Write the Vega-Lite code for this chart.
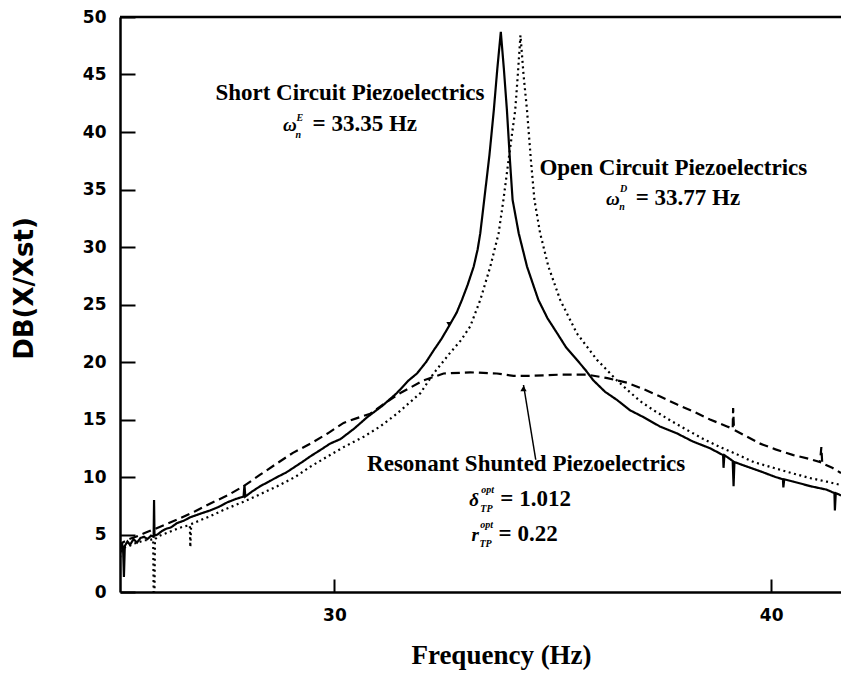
{
  "$schema": "https://vega.github.io/schema/vega-lite/v6.json",
  "width": 721,
  "height": 575,
  "autosize": {"type": "none"},
  "padding": {"left": 120, "top": 17, "right": 0, "bottom": 82},
  "background": "white",
  "config": {"view": {"stroke": null}},
  "datasets": {
    "curves": [
      {"s": "Short", "x": 25.09, "y": 3.3}, {"s": "Short", "x": 25.13, "y": 4.3}, {"s": "Short", "x": 25.16, "y": 3.8}, {"s": "Short", "x": 25.18, "y": 1.3}, {"s": "Short", "x": 25.2, "y": 4.0},
      {"s": "Short", "x": 25.26, "y": 4.4}, {"s": "Short", "x": 25.32, "y": 4.1}, {"s": "Short", "x": 25.4, "y": 4.6}, {"s": "Short", "x": 25.48, "y": 4.3}, {"s": "Short", "x": 25.56, "y": 4.7},
      {"s": "Short", "x": 25.64, "y": 4.8}, {"s": "Short", "x": 25.72, "y": 4.6}, {"s": "Short", "x": 25.8, "y": 4.9}, {"s": "Short", "x": 25.86, "y": 4.8}, {"s": "Short", "x": 25.87, "y": 8.0},
      {"s": "Short", "x": 25.88, "y": 4.9}, {"s": "Short", "x": 25.95, "y": 5.0}, {"s": "Short", "x": 26.05, "y": 5.3}, {"s": "Short", "x": 26.15, "y": 5.5}, {"s": "Short", "x": 26.25, "y": 5.6},
      {"s": "Short", "x": 26.4, "y": 6.0}, {"s": "Short", "x": 26.55, "y": 6.2}, {"s": "Short", "x": 26.7, "y": 6.5}, {"s": "Short", "x": 26.85, "y": 6.7}, {"s": "Short", "x": 27.0, "y": 6.9},
      {"s": "Short", "x": 27.16, "y": 7.1}, {"s": "Short", "x": 27.35, "y": 7.4}, {"s": "Short", "x": 27.55, "y": 7.8}, {"s": "Short", "x": 27.75, "y": 8.1}, {"s": "Short", "x": 27.92, "y": 8.3},
      {"s": "Short", "x": 27.94, "y": 9.3}, {"s": "Short", "x": 27.96, "y": 8.3}, {"s": "Short", "x": 28.1, "y": 8.7}, {"s": "Short", "x": 28.3, "y": 9.2}, {"s": "Short", "x": 28.5, "y": 9.6},
      {"s": "Short", "x": 28.69, "y": 10.0}, {"s": "Short", "x": 28.9, "y": 10.4}, {"s": "Short", "x": 29.1, "y": 10.9}, {"s": "Short", "x": 29.3, "y": 11.4}, {"s": "Short", "x": 29.45, "y": 11.8},
      {"s": "Short", "x": 29.7, "y": 12.4}, {"s": "Short", "x": 29.9, "y": 12.9}, {"s": "Short", "x": 30.14, "y": 13.3}, {"s": "Short", "x": 30.45, "y": 14.2}, {"s": "Short", "x": 30.75, "y": 15.2},
      {"s": "Short", "x": 31.1, "y": 16.2}, {"s": "Short", "x": 31.43, "y": 17.3}, {"s": "Short", "x": 31.7, "y": 18.4}, {"s": "Short", "x": 31.89, "y": 19.0}, {"s": "Short", "x": 32.1, "y": 20.0},
      {"s": "Short", "x": 32.27, "y": 21.0}, {"s": "Short", "x": 32.45, "y": 22.0}, {"s": "Short", "x": 32.62, "y": 23.1}, {"s": "Short", "x": 32.8, "y": 24.3}, {"s": "Short", "x": 32.92, "y": 25.4},
      {"s": "Short", "x": 33.05, "y": 26.7}, {"s": "Short", "x": 33.19, "y": 28.3}, {"s": "Short", "x": 33.28, "y": 29.8}, {"s": "Short", "x": 33.34, "y": 31.2}, {"s": "Short", "x": 33.43, "y": 34.1},
      {"s": "Short", "x": 33.55, "y": 38.0}, {"s": "Short", "x": 33.65, "y": 41.9}, {"s": "Short", "x": 33.73, "y": 45.5}, {"s": "Short", "x": 33.81, "y": 48.7}, {"s": "Short", "x": 33.88, "y": 45.5},
      {"s": "Short", "x": 33.95, "y": 41.9}, {"s": "Short", "x": 34.02, "y": 37.5}, {"s": "Short", "x": 34.08, "y": 34.1}, {"s": "Short", "x": 34.22, "y": 31.2}, {"s": "Short", "x": 34.41, "y": 28.3},
      {"s": "Short", "x": 34.67, "y": 25.4}, {"s": "Short", "x": 34.88, "y": 23.8}, {"s": "Short", "x": 35.1, "y": 22.5}, {"s": "Short", "x": 35.3, "y": 21.3}, {"s": "Short", "x": 35.55, "y": 20.2},
      {"s": "Short", "x": 35.75, "y": 19.3}, {"s": "Short", "x": 35.93, "y": 18.4}, {"s": "Short", "x": 36.2, "y": 17.4}, {"s": "Short", "x": 36.47, "y": 16.7}, {"s": "Short", "x": 36.77, "y": 15.8},
      {"s": "Short", "x": 37.08, "y": 15.2}, {"s": "Short", "x": 37.45, "y": 14.4}, {"s": "Short", "x": 37.84, "y": 13.8}, {"s": "Short", "x": 38.2, "y": 13.1}, {"s": "Short", "x": 38.6, "y": 12.5},
      {"s": "Short", "x": 38.9, "y": 11.9}, {"s": "Short", "x": 38.91, "y": 10.8}, {"s": "Short", "x": 38.93, "y": 11.9}, {"s": "Short", "x": 39.12, "y": 11.4}, {"s": "Short", "x": 39.14, "y": 9.2},
      {"s": "Short", "x": 39.16, "y": 11.3}, {"s": "Short", "x": 39.45, "y": 10.9}, {"s": "Short", "x": 39.75, "y": 10.5}, {"s": "Short", "x": 40.1, "y": 10.0}, {"s": "Short", "x": 40.27, "y": 9.8},
      {"s": "Short", "x": 40.28, "y": 9.1}, {"s": "Short", "x": 40.3, "y": 9.8}, {"s": "Short", "x": 40.51, "y": 9.6}, {"s": "Short", "x": 40.9, "y": 9.2}, {"s": "Short", "x": 41.27, "y": 8.9},
      {"s": "Short", "x": 41.45, "y": 8.6}, {"s": "Short", "x": 41.46, "y": 7.1}, {"s": "Short", "x": 41.48, "y": 8.6}, {"s": "Short", "x": 41.6, "y": 8.4},

      {"s": "Open", "x": 25.09, "y": 3.0}, {"s": "Open", "x": 25.13, "y": 3.6}, {"s": "Open", "x": 25.2, "y": 3.9}, {"s": "Open", "x": 25.3, "y": 4.0}, {"s": "Open", "x": 25.4, "y": 4.2},
      {"s": "Open", "x": 25.5, "y": 4.3}, {"s": "Open", "x": 25.64, "y": 4.5}, {"s": "Open", "x": 25.75, "y": 4.5}, {"s": "Open", "x": 25.85, "y": 4.6}, {"s": "Open", "x": 25.86, "y": 0.0},
      {"s": "Open", "x": 25.88, "y": 0.0}, {"s": "Open", "x": 25.89, "y": 4.6}, {"s": "Open", "x": 26.0, "y": 4.9}, {"s": "Open", "x": 26.2, "y": 5.2}, {"s": "Open", "x": 26.4, "y": 5.5},
      {"s": "Open", "x": 26.55, "y": 5.7}, {"s": "Open", "x": 26.69, "y": 5.8}, {"s": "Open", "x": 26.7, "y": 3.9}, {"s": "Open", "x": 26.72, "y": 5.9}, {"s": "Open", "x": 26.9, "y": 6.2},
      {"s": "Open", "x": 27.16, "y": 6.6}, {"s": "Open", "x": 27.5, "y": 7.2}, {"s": "Open", "x": 27.92, "y": 7.85}, {"s": "Open", "x": 28.3, "y": 8.5}, {"s": "Open", "x": 28.69, "y": 9.2},
      {"s": "Open", "x": 29.1, "y": 10.0}, {"s": "Open", "x": 29.45, "y": 10.9}, {"s": "Open", "x": 29.85, "y": 11.8}, {"s": "Open", "x": 30.21, "y": 12.6}, {"s": "Open", "x": 30.67, "y": 13.5},
      {"s": "Open", "x": 31.05, "y": 14.4}, {"s": "Open", "x": 31.43, "y": 15.5}, {"s": "Open", "x": 31.7, "y": 16.4}, {"s": "Open", "x": 31.97, "y": 17.3}, {"s": "Open", "x": 32.27, "y": 19.0},
      {"s": "Open", "x": 32.65, "y": 20.8}, {"s": "Open", "x": 32.9, "y": 21.9}, {"s": "Open", "x": 33.11, "y": 23.1}, {"s": "Open", "x": 33.34, "y": 25.4}, {"s": "Open", "x": 33.57, "y": 28.3},
      {"s": "Open", "x": 33.76, "y": 31.2}, {"s": "Open", "x": 33.87, "y": 34.1}, {"s": "Open", "x": 34.02, "y": 38.5}, {"s": "Open", "x": 34.14, "y": 41.9}, {"s": "Open", "x": 34.2, "y": 45.0},
      {"s": "Open", "x": 34.26, "y": 48.4}, {"s": "Open", "x": 34.33, "y": 45.0}, {"s": "Open", "x": 34.41, "y": 41.9}, {"s": "Open", "x": 34.5, "y": 37.5}, {"s": "Open", "x": 34.58, "y": 34.1},
      {"s": "Open", "x": 34.71, "y": 31.2}, {"s": "Open", "x": 34.9, "y": 28.3}, {"s": "Open", "x": 35.17, "y": 25.4}, {"s": "Open", "x": 35.55, "y": 22.5}, {"s": "Open", "x": 36.01, "y": 20.2},
      {"s": "Open", "x": 36.47, "y": 18.4}, {"s": "Open", "x": 36.7, "y": 17.6}, {"s": "Open", "x": 37.0, "y": 16.6}, {"s": "Open", "x": 37.31, "y": 15.8}, {"s": "Open", "x": 37.7, "y": 14.9},
      {"s": "Open", "x": 38.07, "y": 14.1}, {"s": "Open", "x": 38.45, "y": 13.3}, {"s": "Open", "x": 38.83, "y": 12.6}, {"s": "Open", "x": 39.2, "y": 12.0}, {"s": "Open", "x": 39.6, "y": 11.3},
      {"s": "Open", "x": 40.05, "y": 10.8}, {"s": "Open", "x": 40.51, "y": 10.3}, {"s": "Open", "x": 40.9, "y": 9.9}, {"s": "Open", "x": 41.27, "y": 9.6}, {"s": "Open", "x": 41.6, "y": 9.3},

      {"s": "Resonant", "x": 25.09, "y": 3.8}, {"s": "Resonant", "x": 25.15, "y": 4.3}, {"s": "Resonant", "x": 25.3, "y": 4.6}, {"s": "Resonant", "x": 25.45, "y": 4.8}, {"s": "Resonant", "x": 25.64, "y": 5.1},
      {"s": "Resonant", "x": 25.9, "y": 5.5}, {"s": "Resonant", "x": 26.15, "y": 5.9}, {"s": "Resonant", "x": 26.4, "y": 6.3}, {"s": "Resonant", "x": 26.8, "y": 7.0}, {"s": "Resonant", "x": 27.16, "y": 7.7},
      {"s": "Resonant", "x": 27.55, "y": 8.4}, {"s": "Resonant", "x": 27.92, "y": 9.2}, {"s": "Resonant", "x": 28.3, "y": 10.2}, {"s": "Resonant", "x": 28.69, "y": 11.2}, {"s": "Resonant", "x": 29.05, "y": 12.1},
      {"s": "Resonant", "x": 29.45, "y": 12.9}, {"s": "Resonant", "x": 29.85, "y": 13.8}, {"s": "Resonant", "x": 30.21, "y": 14.7}, {"s": "Resonant", "x": 30.5, "y": 15.1}, {"s": "Resonant", "x": 30.82, "y": 15.5},
      {"s": "Resonant", "x": 31.15, "y": 16.4}, {"s": "Resonant", "x": 31.51, "y": 17.3}, {"s": "Resonant", "x": 32.04, "y": 18.4}, {"s": "Resonant", "x": 32.5, "y": 19.0}, {"s": "Resonant", "x": 33.11, "y": 19.1},
      {"s": "Resonant", "x": 33.72, "y": 19.0}, {"s": "Resonant", "x": 34.1, "y": 18.8}, {"s": "Resonant", "x": 34.49, "y": 18.8}, {"s": "Resonant", "x": 35.17, "y": 18.9}, {"s": "Resonant", "x": 35.78, "y": 18.9},
      {"s": "Resonant", "x": 36.25, "y": 18.6}, {"s": "Resonant", "x": 36.7, "y": 18.2}, {"s": "Resonant", "x": 37.1, "y": 17.6}, {"s": "Resonant", "x": 37.46, "y": 17.0}, {"s": "Resonant", "x": 37.85, "y": 16.3},
      {"s": "Resonant", "x": 38.22, "y": 15.7}, {"s": "Resonant", "x": 38.6, "y": 15.0}, {"s": "Resonant", "x": 38.99, "y": 14.4}, {"s": "Resonant", "x": 39.12, "y": 14.2}, {"s": "Resonant", "x": 39.13, "y": 16.0},
      {"s": "Resonant", "x": 39.15, "y": 14.1}, {"s": "Resonant", "x": 39.45, "y": 13.5}, {"s": "Resonant", "x": 39.75, "y": 12.9}, {"s": "Resonant", "x": 40.1, "y": 12.4}, {"s": "Resonant", "x": 40.51, "y": 11.9},
      {"s": "Resonant", "x": 40.85, "y": 11.6}, {"s": "Resonant", "x": 41.12, "y": 11.3}, {"s": "Resonant", "x": 41.15, "y": 12.6}, {"s": "Resonant", "x": 41.17, "y": 11.2}, {"s": "Resonant", "x": 41.4, "y": 10.8},
      {"s": "Resonant", "x": 41.6, "y": 10.35}
    ],
    "frame": [{"x": 25.09, "y": 50}, {"x": 41.6, "y": 50}],
    "pointer": [{"x": 34.33, "y": 18.0, "x2": 34.61, "y2": 11.5}],
    "arrowUp": [{"x": 34.33, "y": 17.7}],
    "arrowDown": [{"x": 32.62, "y": 23.3}],
    "labels": [
      {"x": 30.355, "y": 42.78, "t": "Short Circuit Piezoelectrics"},
      {"x": 37.76, "y": 36.26, "t": "Open Circuit Piezoelectrics"},
      {"x": 34.39, "y": 10.52, "t": "Resonant Shunted Piezoelectrics"}
    ],
    "symbols": [
      {"x": 28.82, "y": 40.09, "t": "ω"},
      {"x": 36.22, "y": 33.65, "t": "ω"},
      {"x": 33.09, "y": 7.48, "t": "δ"},
      {"x": 33.14, "y": 4.43, "t": "r"}
    ],
    "values": [
      {"x": 29.5, "y": 40.09, "t": "= 33.35 Hz"},
      {"x": 36.9, "y": 33.65, "t": "= 33.77 Hz"},
      {"x": 33.8, "y": 7.48, "t": "= 1.012"},
      {"x": 33.76, "y": 4.43, "t": "= 0.22"}
    ],
    "scripts": [
      {"x": 29.13, "y": 41.0, "t": "E"}, {"x": 29.11, "y": 39.5, "t": "n"},
      {"x": 36.54, "y": 34.74, "t": "D"}, {"x": 36.52, "y": 33.2, "t": "n"},
      {"x": 33.36, "y": 8.65, "t": "opt"}, {"x": 33.34, "y": 6.95, "t": "TP"},
      {"x": 33.34, "y": 5.6, "t": "opt"}, {"x": 33.32, "y": 3.95, "t": "TP"}
    ]
  },
  "encoding": {
    "x": {
      "field": "x", "type": "quantitative",
      "scale": {"domain": [25.09, 41.6], "nice": false, "zero": false},
      "axis": {
        "title": "Frequency (Hz)", "values": [30, 40], "grid": false,
        "domainColor": "black", "domainWidth": 2.5, "tickColor": "black", "tickWidth": 2, "tickSize": -13,
        "labelFont": "DejaVu Sans", "labelFontWeight": "bold", "labelFontSize": 17, "labelColor": "black", "labelPadding": 28, "labelFlush": false,
        "titleFont": "Liberation Serif", "titleFontWeight": "bold", "titleFontSize": 27, "titleColor": "black",
        "titleX": 381, "titleY": 71, "titleAlign": "center", "titleBaseline": "alphabetic"
      }
    },
    "y": {
      "field": "y", "type": "quantitative",
      "scale": {"domain": [0, 50], "nice": false},
      "axis": {
        "title": "DB(X/Xst)", "values": [0, 5, 10, 15, 20, 25, 30, 35, 40, 45, 50], "grid": false,
        "domainColor": "black", "domainWidth": 2.5, "tickColor": "black", "tickWidth": 2, "tickSize": -15,
        "labelFont": "DejaVu Sans", "labelFontWeight": "bold", "labelFontSize": 17, "labelColor": "black", "labelPadding": 29, "labelFlush": false,
        "titleFont": "DejaVu Sans", "titleFontWeight": "bold", "titleFontSize": 26, "titleColor": "black",
        "titleAngle": -90, "titleX": -96, "titleY": 271, "titleAlign": "center", "titleBaseline": "middle"
      }
    }
  },
  "layer": [
    {
      "data": {"name": "curves"},
      "mark": {"type": "line", "color": "black", "strokeWidth": 2.2, "clip": true},
      "encoding": {
        "detail": {"field": "s"},
        "strokeDash": {"field": "s", "type": "nominal", "legend": null,
          "scale": {"domain": ["Short", "Open", "Resonant"], "range": [[1, 0], [2, 3.5], [9, 5]]}}
      }
    },
    {
      "data": {"name": "frame"},
      "mark": {"type": "line", "color": "black", "strokeWidth": 2.5},
      "encoding": {}
    },
    {
      "data": {"name": "pointer"},
      "mark": {"type": "rule", "color": "black", "strokeWidth": 1.5},
      "encoding": {"x2": {"field": "x2"}, "y2": {"field": "y2"}}
    },
    {
      "data": {"name": "arrowUp"},
      "mark": {"type": "point", "shape": "triangle-up", "filled": true, "color": "black", "size": 40, "opacity": 1}
    },
    {
      "data": {"name": "arrowDown"},
      "mark": {"type": "point", "shape": "triangle-down", "filled": true, "color": "black", "size": 25, "opacity": 1}
    },
    {
      "data": {"name": "labels"},
      "mark": {"type": "text", "font": "Liberation Serif", "fontWeight": "bold", "fontSize": 23, "align": "center", "baseline": "alphabetic", "color": "black"},
      "encoding": {"text": {"field": "t"}}
    },
    {
      "data": {"name": "symbols"},
      "mark": {"type": "text", "font": "Liberation Serif", "fontWeight": "bold", "fontStyle": "italic", "fontSize": 19, "align": "left", "baseline": "alphabetic", "color": "black"},
      "encoding": {"text": {"field": "t"}}
    },
    {
      "data": {"name": "values"},
      "mark": {"type": "text", "font": "Liberation Serif", "fontWeight": "bold", "fontSize": 23, "align": "left", "baseline": "alphabetic", "color": "black"},
      "encoding": {"text": {"field": "t"}}
    },
    {
      "data": {"name": "scripts"},
      "mark": {"type": "text", "font": "Liberation Serif", "fontWeight": "bold", "fontStyle": "italic", "fontSize": 10, "align": "left", "baseline": "alphabetic", "color": "black"},
      "encoding": {"text": {"field": "t"}}
    }
  ]
}
